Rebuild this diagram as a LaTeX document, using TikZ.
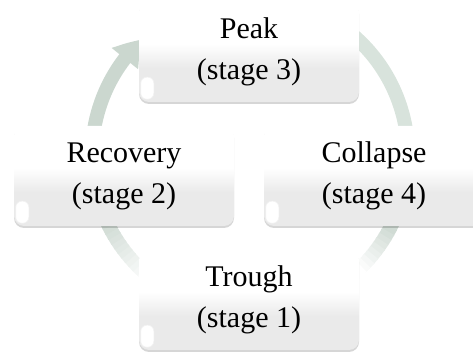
\documentclass[tikz,border=0pt]{standalone}
\usepackage{fontspec}
\setmainfont{Liberation Serif}
\usetikzlibrary{arrows.meta,bending,shadows}
\definecolor{ringA}{RGB}{203,215,207}
\definecolor{ringB}{RGB}{216,227,220}
\definecolor{ringC}{RGB}{208,219,212}
\definecolor{boxbot}{RGB}{234,234,234}
\pgfdeclareverticalshading{boxshade}{100bp}{color(0bp)=(boxbot); color(25bp)=(boxbot); color(42bp)=(boxbot); color(54bp)=(white); color(100bp)=(white)}
\begin{document}
\begin{tikzpicture}[x=1pt,y=1pt,
  stagebox/.style={rectangle, rounded corners=10pt, minimum width=220pt, minimum height=100pt,
    shading=boxshade, drop shadow={shadow xshift=0pt, shadow yshift=-2pt, opacity=0.16, fill=black},
    align=center, font=\fontsize{30}{41}\selectfont, inner sep=0pt},
  bevel/.style={fill=white, draw=gray!10, line width=0.6pt, rounded corners=6pt},
  shaft/.style={line width=14pt},
  cyc/.style={line width=14pt, -{Triangle[width=32pt,length=26pt,bend]}}]
\useasboundingbox (0,0) rectangle (473,352);
\clip (0,0) rectangle (473,352);
\coordinate (c) at (250,197);
% cycle arrows
% Trough -> Recovery (fading towards Trough)
\foreach \a in {245,243,...,203}{
  \pgfmathsetmacro\p{max(0,min(100,100-(\a-207)*75/19))}
  \draw[shaft, ringC!\p!white] ([shift={(\a:158)}]c) arc[start angle=\a, end angle=\a-2.6, radius=158];
}
\draw[cyc, ringC] ([shift={(202:158)}]c) arc[start angle=202, end angle=190, radius=158];
% Recovery -> Peak
\draw[cyc, ringA] ([shift={(175:158)}]c) arc[start angle=175, end angle=133, radius=158];
% Peak -> Collapse
\draw[cyc, ringB] ([shift={(55:158)}]c) arc[start angle=55, end angle=-3, radius=158];
% Collapse -> Trough (fading towards Trough)
\foreach \a in {-15,-17,...,-55}{
  \pgfmathsetmacro\p{max(0,min(100,(\a+45)*100/18))}
  \draw[shaft, ringC!\p!white] ([shift={(\a:158)}]c) arc[start angle=\a, end angle=\a-2.6, radius=158];
}
\draw[cyc, white] ([shift={(-56:158)}]c) arc[start angle=-56, end angle=-68, radius=158];
% boxes
\node[stagebox] (peak) at (249,300) {Peak\\(stage 3)};
\node[stagebox] (recovery) at (124,176) {Recovery\\(stage 2)};
\node[stagebox] (collapse) at (374,176) {Collapse\\(stage 4)};
\node[stagebox] (trough) at (249,52) {Trough\\(stage 1)};
% bevel highlights
\foreach \n in {peak,recovery,collapse,trough}{
  \draw[bevel] ([xshift=2pt,yshift=3pt]\n.south west) rectangle ++(13,22);
}
\end{tikzpicture}
\end{document}
